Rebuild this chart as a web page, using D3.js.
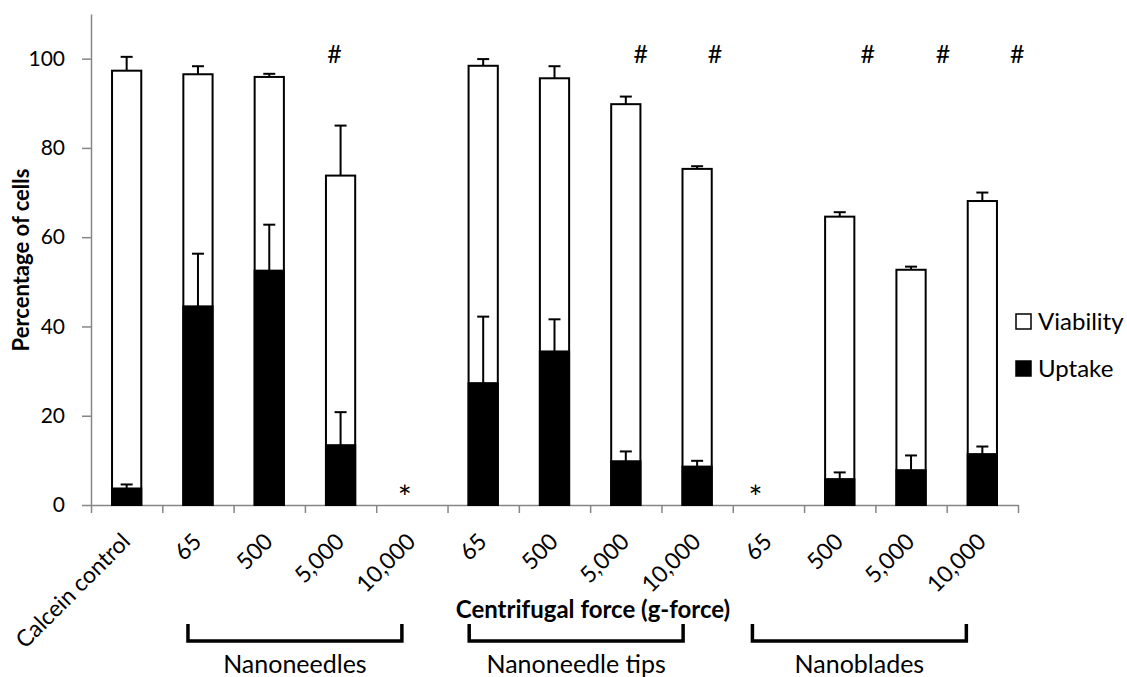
<!DOCTYPE html>
<html>
<head>
<meta charset="utf-8">
<script src="https://cdn.jsdelivr.net/npm/d3@7"></script>
<style>
  html, body { margin: 0; padding: 0; background: #fff; }
  svg { display: block; font-family: "Lato", "Carlito", "Open Sans", sans-serif; }
</style>
</head>
<body>
<svg id="chart" width="1127" height="677"></svg>
<script>
// Categories along the x axis (centrifugal force) and the substrate group each belongs to
const categories = ["Calcein control", "65", "500", "5,000", "10,000",
                    "65", "500", "5,000", "10,000",
                    "65", "500", "5,000", "10,000"];
const groupNames = ["Nanoneedles", "Nanoneedle tips", "Nanoblades"];
const groupSpans = [[1, 4], [5, 8], [9, 12]];

// Percentage of cells (null = no data, marked with *)
const viability    = [97.3, 96.5, 95.9, 73.8, null, 98.4, 95.6, 89.8, 75.3, null, 64.6, 52.7, 68.1];
const viabilityErr = [3.1, 1.8, 0.7, 11.2, null, 1.5, 2.7, 1.7, 0.6, null, 1.0, 0.7, 1.9];
const uptake       = [3.7, 44.5, 52.5, 13.4, null, 27.3, 34.4, 9.8, 8.6, null, 5.8, 7.8, 11.4];
const uptakeErr    = [0.9, 11.8, 10.3, 7.4, null, 14.9, 7.2, 2.2, 1.3, null, 1.5, 3.3, 1.7];

// Significance annotations
const hashIdx = [3, 7, 8, 10, 11, 12];
const starIdx = [4, 9];
const yTicks = [0, 20, 40, 60, 80, 100];

// Layout
const plotLeft = 91, plotRight = 1018, plotTop = 14, plotBottom = 505;
const axisGrey = "#868686";
const hashShift = [-6, 15, 18, 28, 32, 35];
const starShift = [-7, -13];
const bracketShift = [-10, -14, -16];

const svg = d3.select("#chart");

const y = d3.scaleLinear().domain([0, 110]).range([plotBottom, plotTop]);
const xs = d3.scaleLinear().domain([0, categories.length]).range([plotLeft, plotRight]);
const slot = xs(1) - xs(0);
const barW = slot * 0.41;
const cx = i => xs(i + 0.5);

// Y axis
const yAxis = svg.append("g")
  .attr("transform", `translate(${plotLeft},0)`)
  .call(d3.axisLeft(y).tickValues(yTicks).tickSize(9).tickSizeOuter(0).tickPadding(17));
yAxis.select(".domain").attr("stroke", axisGrey).attr("stroke-width", 1.5);
yAxis.selectAll(".tick line").attr("stroke", axisGrey).attr("stroke-width", 1.5);
yAxis.selectAll(".tick text").attr("font-size", 21).attr("fill", "#000")
  .attr("font-family", "Lato, Carlito, sans-serif");

// X axis (tick marks at category boundaries)
const xAxis = svg.append("g")
  .attr("transform", `translate(0,${plotBottom})`)
  .call(d3.axisBottom(xs).tickValues(d3.range(categories.length + 1)).tickSize(8).tickSizeOuter(0).tickFormat(""));
xAxis.select(".domain").attr("stroke", axisGrey).attr("stroke-width", 1.5);
xAxis.selectAll(".tick line").attr("stroke", axisGrey).attr("stroke-width", 1.5);

const idx = d3.range(categories.length);

// Viability bars (white)
svg.append("g").selectAll("rect")
  .data(idx.filter(i => viability[i] != null))
  .join("rect")
  .attr("x", i => cx(i) - barW / 2)
  .attr("width", barW)
  .attr("y", i => y(viability[i]))
  .attr("height", i => y(0) - y(viability[i]))
  .attr("fill", "#fff").attr("stroke", "#000").attr("stroke-width", 2);

// Uptake bars (black)
svg.append("g").selectAll("rect")
  .data(idx.filter(i => uptake[i] != null))
  .join("rect")
  .attr("x", i => cx(i) - barW / 2)
  .attr("width", barW)
  .attr("y", i => y(uptake[i]))
  .attr("height", i => y(0) - y(uptake[i]))
  .attr("fill", "#000").attr("stroke", "#000").attr("stroke-width", 2);

// Error bars (upper only)
function errorBars(vals, errs) {
  const g = svg.append("g").attr("stroke", "#000").attr("stroke-width", 2);
  idx.filter(i => vals[i] != null).forEach(i => {
    const x0 = cx(i), yv = y(vals[i]), ye = y(vals[i] + errs[i]);
    g.append("line").attr("x1", x0).attr("x2", x0).attr("y1", yv).attr("y2", ye);
    g.append("line").attr("x1", x0 - 6).attr("x2", x0 + 6).attr("y1", ye).attr("y2", ye);
  });
}
errorBars(viability, viabilityErr);
errorBars(uptake, uptakeErr);

// Category labels, rotated 45 degrees
svg.append("g").selectAll("text")
  .data(idx)
  .join("text")
  .attr("transform", i => `translate(${cx(i) + 5},${plotBottom + 38}) rotate(-45)`)
  .attr("text-anchor", "end")
  .attr("font-size", 23)
  .text(i => categories[i]);

// Significance markers
svg.append("g").selectAll("text")
  .data(hashIdx)
  .join("text")
  .attr("x", (i, k) => cx(i) + hashShift[k])
  .attr("y", y(100) + 4)
  .attr("text-anchor", "middle")
  .attr("font-size", 25)
  .text("#");

svg.append("g").selectAll("text")
  .data(starIdx)
  .join("text")
  .attr("x", (i, k) => cx(i) + starShift[k])
  .attr("y", y(0) + 4)
  .attr("text-anchor", "middle")
  .attr("font-size", 33)
  .text("*");

// Axis titles
svg.append("text")
  .attr("transform", `translate(29,260) rotate(-90)`)
  .attr("text-anchor", "middle")
  .attr("font-weight", "bold")
  .attr("font-size", 22)
  .text("Percentage of cells");

svg.append("text")
  .attr("x", 593).attr("y", 618)
  .attr("text-anchor", "middle")
  .attr("font-weight", "bold")
  .attr("font-size", 24)
  .text("Centrifugal force (g-force)");

// Group brackets and names
groupSpans.forEach(([a, b], k) => {
  const x1 = cx(a) + bracketShift[k], x2 = cx(b) + bracketShift[k];
  svg.append("path")
    .attr("d", `M${x1},624 V641 H${x2} V624`)
    .attr("fill", "none").attr("stroke", "#000").attr("stroke-width", 3.5);
  svg.append("text")
    .attr("x", (x1 + x2) / 2).attr("y", 673)
    .attr("text-anchor", "middle")
    .attr("font-size", 25)
    .text(groupNames[k]);
});

// Legend
const legend = svg.append("g").attr("transform", "translate(1016,0)");
[["Viability", "#fff", 314], ["Uptake", "#000", 361]].forEach(([name, fill, yy]) => {
  legend.append("rect").attr("x", 0).attr("y", yy).attr("width", 15).attr("height", 15)
    .attr("fill", fill).attr("stroke", "#000").attr("stroke-width", 1.5);
  legend.append("text").attr("x", 22).attr("y", yy + 16).attr("font-size", 24).text(name);
});
</script>
</body>
</html>
